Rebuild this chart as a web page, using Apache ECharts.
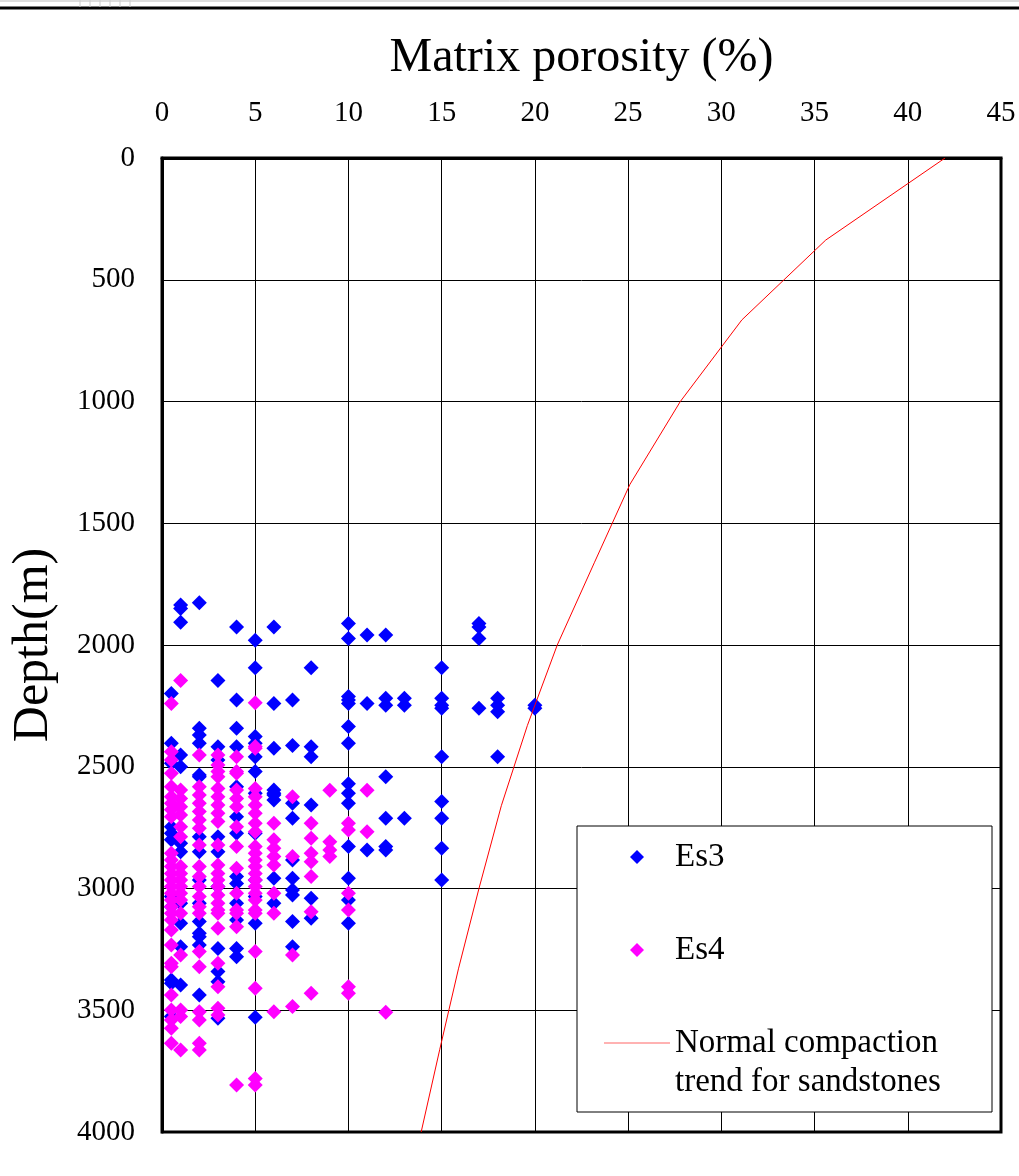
<!DOCTYPE html>
<html>
<head>
<meta charset="utf-8">
<script src="https://cdn.jsdelivr.net/npm/echarts@6/dist/echarts.min.js"></script>
<style>
  html, body { margin: 0; padding: 0; background: #fff; }
  #chart { width: 1019px; height: 1176px; }
</style>
</head>
<body>
<div id="chart"></div>
<script>
// x ticks (porosity %) and y ticks (depth m)
var xTicks = [0, 5, 10, 15, 20, 25, 30, 35, 40, 45];
var yTicks = [0, 500, 1000, 1500, 2000, 2500, 3000, 3500, 4000];

// Es3 samples: [porosity, depth]
var es3 = [
  [1, 1836], [1, 1850], [1, 1907], [2, 1826], [4, 1926], [6, 1926], [5, 1981],
  [10, 1912], [10, 1973], [11, 1959], [12, 1959], [17, 1912], [17, 1926], [17, 1973],
  [5, 2093], [8, 2093], [15, 2093], [3, 2146], [0.5, 2199],
  [4, 2226], [6, 2240], [7, 2226], [10, 2212], [10, 2226], [10, 2240], [11, 2240],
  [12, 2219], [12, 2247], [13, 2219], [13, 2247], [15, 2219], [15, 2247], [15, 2260],
  [17, 2260], [18, 2219], [18, 2247], [18, 2274], [20, 2247], [20, 2260],
  [10, 2335], [10, 2404], [2, 2342], [2, 2370], [2, 2404], [4, 2342], [5, 2376], [5, 2404],
  [0.5, 2404], [3, 2418], [4, 2418], [6, 2424], [7, 2413], [8, 2418], [8, 2459],
  [15, 2459], [18, 2459], [1, 2452], [1, 2500], [3, 2472], [5, 2459], [5, 2520],
  [2, 2541], [12, 2541], [10, 2570], [10, 2609], [10, 2650], [15, 2643], [15, 2712],
  [12, 2712], [13, 2712], [7, 2650], [6, 2609], [6, 2637], [8, 2657], [7, 2712],
  [0.5, 2486], [0.5, 2746], [0.5, 2773], [0.5, 2800], [0.5, 3033], [0.5, 3075],
  [1, 2814], [1, 2849], [1, 3061], [1, 3143],
  [2, 2534], [2, 2787], [2, 2849], [2, 2965], [2, 3061], [2, 3136], [2, 3184],
  [3, 2787], [3, 2849], [3, 2992],
  [4, 2582], [4, 2705], [4, 2773], [4, 2951], [4, 2979], [4, 3061], [4, 3129],
  [5, 2609], [5, 2773], [5, 2965], [5, 3033], [5, 3143],
  [6, 2595], [6, 2616], [6, 2958], [6, 3061],
  [7, 2883], [7, 2958], [7, 3006], [7, 3027], [7, 3136],
  [8, 3040], [8, 3122],
  [10, 2828], [10, 2958], [10, 3047], [10, 3143],
  [11, 2842], [12, 2828], [12, 2842], [15, 2835], [15, 2965],
  [0.5, 3376], [0.5, 3389], [0.5, 3526], [1, 3239], [1, 3396],
  [2, 3198], [2, 3232], [2, 3437], [3, 3246], [3, 3341], [3, 3383], [3, 3533],
  [4, 3246], [4, 3280], [5, 3529], [7, 3239]
];

// Es4 samples: [porosity, depth]
var es4 = [
  [1, 2146], [0.5, 2240], [5, 2237], [5, 2424], [0.5, 2438], [0.5, 2472],
  [2, 2452], [3, 2452], [3, 2493], [3, 2520], [4, 2459], [4, 2520],
  [0.5, 2527], [0.5, 2582], [0.5, 2623], [0.5, 2650], [0.5, 2677], [0.5, 2705],
  [0.5, 2855], [0.5, 2883], [0.5, 2910], [0.5, 2938], [0.5, 2965], [0.5, 2992],
  [0.5, 3020], [0.5, 3047], [0.5, 3075], [0.5, 3102], [0.5, 3129], [0.5, 3170],
  [1, 2595], [1, 2630], [1, 2664], [1, 2698], [1, 2746], [1, 2787], [1, 2910],
  [1, 2938], [1, 2965], [1, 2992], [1, 3020], [1, 3047], [1, 3102],
  [2, 2582], [2, 2616], [2, 2650], [2, 2684], [2, 2719], [2, 2753], [2, 2821],
  [2, 2910], [2, 2951], [2, 2992], [2, 3033], [2, 3075], [2, 3102],
  [3, 2541], [3, 2589], [3, 2623], [3, 2657], [3, 2691], [3, 2725], [3, 2821],
  [3, 2903], [3, 2938], [3, 2965], [3, 2992], [3, 3027], [3, 3061], [3, 3088], [3, 3102], [3, 3163],
  [4, 2527], [4, 2595], [4, 2630], [4, 2664], [4, 2746], [4, 2828], [4, 2917],
  [4, 3020], [4, 3088], [4, 3102], [4, 3157],
  [5, 2417], [5, 2589], [5, 2623], [5, 2657], [5, 2691], [5, 2732], [5, 2767],
  [5, 2828], [5, 2855], [5, 2883], [5, 2910], [5, 2938], [5, 2965], [5, 2992],
  [5, 3020], [5, 3047], [5, 3088], [5, 3102],
  [6, 2732], [6, 2800], [6, 2835], [6, 2869], [6, 2903], [6, 3020], [6, 3102],
  [7, 2623], [7, 2869], [8, 2732], [8, 2794], [8, 2855], [8, 2890], [8, 2951], [8, 3095],
  [9, 2596], [9, 2808], [9, 2842], [9, 2869],
  [10, 2732], [10, 2760], [10, 3020], [10, 3088], [11, 2596], [11, 2767],
  [0.5, 3232], [0.5, 3307], [0.5, 3321], [0.5, 3437], [0.5, 3499], [0.5, 3540],
  [0.5, 3574], [0.5, 3636],
  [1, 3273], [1, 3499], [1, 3526], [1, 3663],
  [2, 3259], [2, 3321], [2, 3506], [2, 3540], [2, 3636], [2, 3663],
  [3, 3307], [3, 3403], [3, 3492], [3, 3520],
  [5, 3259], [5, 3410], [5, 3780], [5, 3807], [4, 3807],
  [6, 3506], [7, 3273], [7, 3485], [8, 3430],
  [10, 3403], [10, 3430], [12, 3508]
];

// normal compaction trend for sandstones
var trend = [
  [42.0, 0], [35.6, 337], [31.1, 665], [27.8, 1000], [25.1, 1340], [23.2, 1660],
  [21.2, 2000], [19.6, 2330], [18.2, 2660], [17.0, 3000], [15.9, 3330],
  [14.9, 3660], [13.9, 4000]
];

var font = 'Liberation Serif';
var diamond = 'path://M5,0L10,5L5,10L0,5Z';
var chart = echarts.init(document.getElementById('chart'));

chart.setOption({
  backgroundColor: '#fff',
  animation: false,
  grid: {
    left: 162, top: 158, right: 18, bottom: 44,
    show: true, borderColor: '#000', borderWidth: 3
  },
  legend: {
    orient: 'vertical',
    left: 577, top: 826,
    padding: [10, 54, 48, 27],
    itemGap: 51,
    itemWidth: 66, itemHeight: 14,
    backgroundColor: '#fff',
    borderColor: '#000', borderWidth: 1,
    textStyle: { fontFamily: font, fontSize: 33, color: '#000', lineHeight: 42 },
    data: [
      { name: 'Es3', icon: diamond },
      { name: 'Es4', icon: diamond },
      { name: 'Normal compaction', icon: 'path://M0,0L66,0L66,1L0,1Z', itemStyle: { color: '#ff6666' } }
    ]
  },
  graphic: [
    { type: 'line', shape: { x1: 0, y1: 1, x2: 1019, y2: 1 }, style: { stroke: '#bbb', lineWidth: 1 } },
    { type: 'line', shape: { x1: 0, y1: 8, x2: 1019, y2: 8 }, style: { stroke: '#000', lineWidth: 3 } },
    { type: 'line', shape: { x1: 80, y1: 0, x2: 80, y2: 7 }, style: { stroke: '#ccc', lineWidth: 1 } },
    { type: 'line', shape: { x1: 90, y1: 0, x2: 90, y2: 7 }, style: { stroke: '#ccc', lineWidth: 1 } },
    { type: 'line', shape: { x1: 100, y1: 0, x2: 100, y2: 7 }, style: { stroke: '#ccc', lineWidth: 1 } },
    { type: 'line', shape: { x1: 110, y1: 0, x2: 110, y2: 7 }, style: { stroke: '#ccc', lineWidth: 1 } },
    { type: 'line', shape: { x1: 120, y1: 0, x2: 120, y2: 7 }, style: { stroke: '#ccc', lineWidth: 1 } },
    { type: 'line', shape: { x1: 130, y1: 0, x2: 130, y2: 7 }, style: { stroke: '#ccc', lineWidth: 1 } },
    {
      // second line of the trend legend label
      type: 'text', z: 100, left: 675, top: 1066,
      style: { text: 'trend for sandstones', font: '33px "Liberation Serif"', fill: '#000' }
    }
  ],
  xAxis: {
    type: 'value',
    position: 'top',
    min: xTicks[0], max: xTicks[xTicks.length - 1], interval: 5,
    name: 'Matrix porosity (%)',
    nameLocation: 'middle',
    nameGap: 76,
    nameTextStyle: { fontFamily: font, fontSize: 48, color: '#000' },
    axisLine: { lineStyle: { color: '#000', width: 3 } },
    axisTick: { show: false },
    axisLabel: { fontFamily: font, fontSize: 29, color: '#000', margin: 30 },
    splitLine: { lineStyle: { color: '#000', width: 1 } }
  },
  yAxis: {
    type: 'value',
    inverse: true,
    min: yTicks[0], max: yTicks[yTicks.length - 1], interval: 500,
    name: 'Depth(m)',
    nameLocation: 'middle',
    nameRotate: 90,
    nameGap: 103,
    nameTextStyle: { fontFamily: font, fontSize: 50, color: '#000' },
    axisLine: { lineStyle: { color: '#000', width: 3 } },
    axisTick: { show: false },
    axisLabel: {
      fontFamily: font, fontSize: 29, color: '#000', margin: 27,
      formatter: function (v) { return String(v); }
    },
    splitLine: { lineStyle: { color: '#000', width: 1 } }
  },
  series: [
    {
      name: 'Es3', type: 'scatter', symbol: 'diamond', symbolSize: 15,
      itemStyle: { color: '#0000ff', opacity: 1 }, data: es3, z: 3
    },
    {
      name: 'Es4', type: 'scatter', symbol: 'diamond', symbolSize: 15,
      itemStyle: { color: '#ff00ff', opacity: 1 }, data: es4, z: 4
    },
    {
      name: 'Normal compaction', type: 'line', symbol: 'none', smooth: false,
      lineStyle: { color: '#ff0000', width: 1 }, itemStyle: { color: '#ff0000' },
      data: trend, z: 5
    }
  ]
});
</script>
</body>
</html>
